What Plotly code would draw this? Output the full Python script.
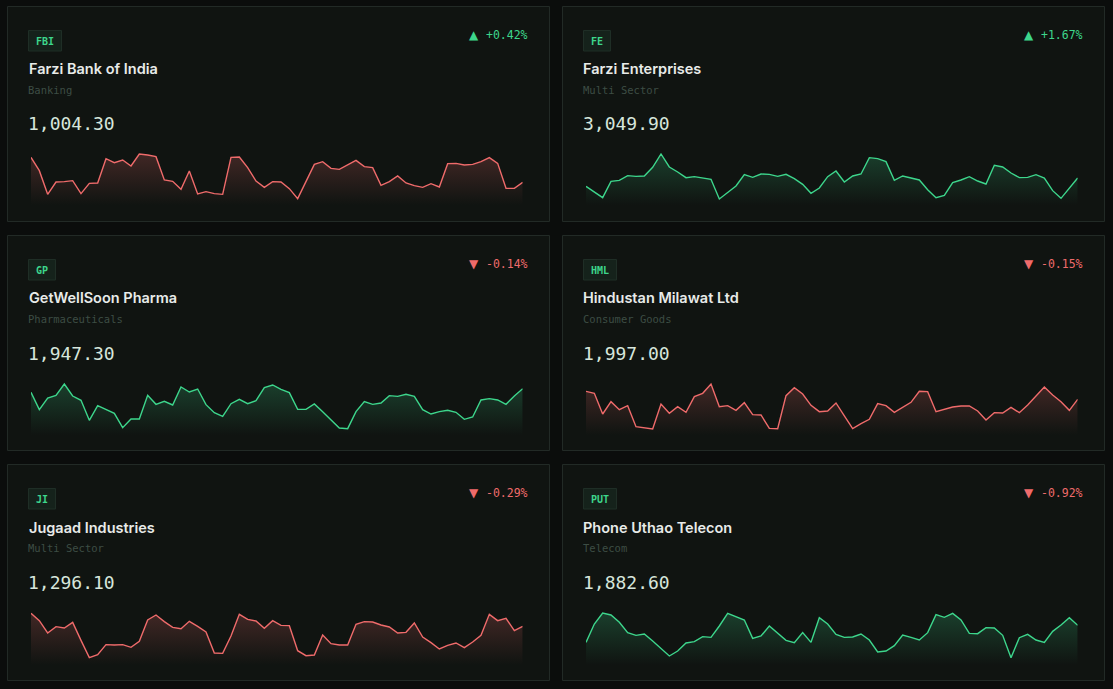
import plotly.graph_objects as go

W, H = 1113, 689

tickers = ["FBI", "FE", "GP", "HML", "JI", "PUT"]
names = ["Farzi Bank of India", "Farzi Enterprises", "GetWellSoon Pharma",
         "Hindustan Milawat Ltd", "Jugaad Industries", "Phone Uthao Telecon"]
sectors = ["Banking", "Multi Sector", "Pharmaceuticals", "Consumer Goods",
           "Multi Sector", "Telecom"]
prices = ["1,004.30", "3,049.90", "1,947.30", "1,997.00", "1,296.10", "1,882.60"]
changes = [0.42, 1.67, -0.14, -0.15, -0.29, -0.92]

fbi = [163,123,52,89,90,93,54,85,86,159, 147,155,137,173,170,165,95,91,67,122,
       53,60,54,52,163,164,132,92,73,90, 89,69,39,90,142,150,130,127,140,154,
       135,132,79,90,107,86,78,73,84,74, 144,145,140,142,150,162,145,70,70,88]
fe = [76,59,42,91,94,108,106,107,133,173, 134,119,102,105,102,97,38,58,77,111,
      103,113,112,106,112,99,82,55,71,105, 122,89,107,113,162,159,150,94,107,101,
      95,66,42,49,87,95,105,92,83,139, 134,116,102,103,111,101,63,40,70,101]
gp = [148,96,131,139,173,137,124,64,108,97, 85,42,68,68,139,112,121,110,164,149,
      158,111,87,76,114,127,114,123,162,170, 157,147,97,97,113,90,66,41,39,90,
      120,112,116,138,136,142,136,96,83,90, 94,88,67,74,125,129,125,112,137,159]
hml = [151,145,83,120,96,108,45,42,38,113, 85,105,88,135,145,173,105,108,94,117,
       81,80,40,39,138,162,143,109,90,92, 116,77,39,54,67,114,108,88,103,118,
       151,150,90,98,104,107,107,92,65,87, 86,103,87,110,136,164,140,120,94,127]
ji = [175,153,116,135,131,148,94,42,51,81, 80,81,73,91,155,170,150,133,129,151,
      136,119,56,55,107,172,157,152,130,153, 139,138,63,48,50,110,84,80,80,142,
      150,149,140,134,116,118,146,104,87,68, 79,86,72,89,109,172,153,160,123,136]
put = [88,143,176,170,148,117,109,113,92,68, 47,62,86,90,105,103,137,175,165,155,
       100,107,137,115,94,87,117,88,162,143, 112,103,104,113,95,59,62,78,110,103,
       95,117,171,163,175,155,115,114,132,131, 109,42,102,112,95,88,121,140,162,139]
series = [fbi, fe, gp, hml, ji, put]
sparkline_colors = ["red", "green", "green", "red", "red", "green"]

GREEN = "#3dd68c"
RED = "#ef6b6b"
GREEN_RGB = "61,214,140"
RED_RGB = "239,107,107"

BG = "#0b0d0c"
CARD = "#101411"
CARD_BORDER = "#222a26"


def px(x):
    return x / W


def py(y):
    return 1 - y / H


fig = go.Figure()
shapes = []
annotations = []

col_left = [7, 562]
row_top = [6, 235, 464]
row_bottom = [221, 450, 680]
spark_off = [145, 375, 605]
card_w = 542

for i in range(6):
    r, c = divmod(i, 2)
    cl = col_left[c]
    ct = row_top[r]
    cb = row_bottom[r]
    shapes.append(dict(type="rect", xref="paper", yref="paper",
                       x0=px(cl + 0.5), x1=px(cl + card_w + 0.5),
                       y0=py(ct + 0.5), y1=py(cb + 0.5),
                       fillcolor=CARD, line=dict(color=CARD_BORDER, width=1),
                       layer="below"))
    # badge
    tk = tickers[i]
    bw = 15 + 6 * len(tk)
    bx0 = cl + 21
    shapes.append(dict(type="rect", xref="paper", yref="paper",
                       x0=px(bx0 + 0.5), x1=px(bx0 + bw + 0.5),
                       y0=py(ct + 24.5), y1=py(ct + 45),
                       fillcolor="#15221b", line=dict(color="#1f2e26", width=1),
                       layer="below"))
    annotations.append(dict(x=px(bx0 + bw / 2 + 0.5), y=py(ct + 35), xref="paper", yref="paper",
                            text=f"<b>{tk}</b>", showarrow=False, xanchor="center", yanchor="middle",
                            font=dict(family="DejaVu Sans Mono", size=10, color=GREEN)))
    # name
    annotations.append(dict(x=px(cl + 19.5), y=py(ct + 63), xref="paper", yref="paper",
                            text=names[i], showarrow=False, xanchor="left", yanchor="middle",
                            font=dict(family="Inter", size=14.5, color="#e8ebe9", weight=600)))
    # sector
    annotations.append(dict(x=px(cl + 19), y=py(ct + 84), xref="paper", yref="paper",
                            text=sectors[i], showarrow=False, xanchor="left", yanchor="middle",
                            font=dict(family="DejaVu Sans Mono", size=10.5, color="#3d4d44")))
    # price
    annotations.append(dict(x=px(cl + 19), y=py(ct + 118), xref="paper", yref="paper",
                            text=prices[i], showarrow=False, xanchor="left", yanchor="middle",
                            font=dict(family="DejaVu Sans Mono", size=18, color="#d7e6dc")))
    # change
    ch = changes[i]
    ccol = GREEN if ch >= 0 else RED
    tri = "▲" if ch >= 0 else "▼"
    annotations.append(dict(x=px(cl + 523), y=py(ct + 29), xref="paper", yref="paper",
                            text=f"{ch:+.2f}%", showarrow=False, xanchor="right", yanchor="middle",
                            font=dict(family="DejaVu Sans Mono", size=11.5, color=ccol)))
    annotations.append(dict(x=px(cl + 466.5), y=py(ct + 29), xref="paper", yref="paper",
                            text=tri, showarrow=False, xanchor="center", yanchor="middle",
                            font=dict(family="DejaVu Sans", size=12, color=ccol)))

    # sparkline
    vals = series[i]
    is_red = sparkline_colors[i] == "red"
    lc = RED if is_red else GREEN
    rgb = RED_RGB if is_red else GREEN_RGB
    n = i + 1
    xa = "x" if n == 1 else f"x{n}"
    ya = "y" if n == 1 else f"y{n}"
    off = spark_off[r]
    top_px = off + 20 / 3
    bot_px = off + 60
    x0p = cl + 24
    x1p = cl + 24 + 491.67
    fig.add_trace(go.Scatter(
        x=list(range(len(vals))), y=vals, mode="lines",
        line=dict(color=lc, width=1.4),
        fill="tozeroy",
        fillgradient=dict(type="vertical", start=20, stop=max(vals),
                          colorscale=[[0, f"rgba({rgb},0)"], [1, f"rgba({rgb},0.22)"]]),
        xaxis=xa, yaxis=ya, hoverinfo="skip", showlegend=False))
    axkw = dict(visible=False, showgrid=False, zeroline=False, fixedrange=True)
    fig.layout[("xaxis" if n == 1 else f"xaxis{n}")] = dict(
        domain=[px(x0p), px(x1p)], range=[0, len(vals) - 1], anchor=ya, **axkw)
    fig.layout[("yaxis" if n == 1 else f"yaxis{n}")] = dict(
        domain=[py(bot_px), py(top_px)], range=[20, 180], anchor=xa, **axkw)

fig.update_layout(
    width=W, height=H,
    margin=dict(l=0, r=0, t=0, b=0),
    paper_bgcolor=BG, plot_bgcolor="rgba(0,0,0,0)",
    shapes=shapes, annotations=annotations,
    showlegend=False,
)

fig.write_html("out.html", config={"displayModeBar": False})
